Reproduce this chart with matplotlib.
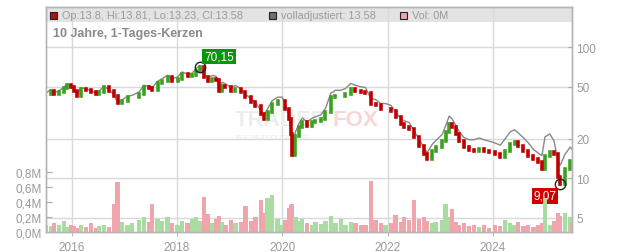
import numpy as np
import matplotlib
matplotlib.use("Agg")
import matplotlib.pyplot as plt
from matplotlib.patches import Rectangle

plt.rcParams["font.family"] = ["Liberation Sans", "DejaVu Sans"]

dates = [
    2015.51, 2015.60, 2015.66, 2015.76, 2015.85, 2015.92, 2015.98, 2016.04, 2016.11, 2016.17,
    2016.27, 2016.36, 2016.46, 2016.52, 2016.61, 2016.71, 2016.80, 2016.87, 2016.96, 2017.06,
    2017.15, 2017.28, 2017.37, 2017.47, 2017.53, 2017.63, 2017.72, 2017.82, 2017.91, 2018.01,
    2018.10, 2018.20, 2018.29, 2018.36, 2018.44,
    2018.51, 2018.58, 2018.67, 2018.74, 2018.80, 2018.86, 2018.92, 2019.02, 2019.11, 2019.21,
    2019.30, 2019.40, 2019.49, 2019.59, 2019.65, 2019.72, 2019.81, 2019.91, 2020.00,
    2020.06, 2020.13, 2020.16, 2020.19, 2020.25, 2020.32, 2020.38, 2020.47, 2020.57, 2020.63,
    2020.73, 2020.82, 2020.92,
    2021.01, 2021.11, 2021.20, 2021.30, 2021.39, 2021.49, 2021.58, 2021.68, 2021.77, 2021.87,
    2021.96, 2022.06, 2022.15, 2022.25,
    2022.31, 2022.41, 2022.50, 2022.60, 2022.69, 2022.75, 2022.85, 2022.91, 2023.04, 2023.10,
    2023.17, 2023.23, 2023.29, 2023.36, 2023.45, 2023.55, 2023.64, 2023.74, 2023.83, 2023.93,
    2024.04, 2024.14, 2024.23, 2024.33, 2024.41, 2024.48, 2024.58, 2024.67, 2024.77, 2024.86,
    2024.93,
    2024.99, 2025.08, 2025.16, 2025.24, 2025.28, 2025.37, 2025.47, 2025.50,
]

closes = [
    44.0, 46.6, 44.0, 45.8, 48.6, 51.5, 49.5, 46.6, 42.7, 48.1,
    47.5, 45.8, 44.0, 45.4, 49.5, 46.6, 42.7, 37.4, 39.1, 41.5,
    41.5, 44.0, 49.5, 48.6, 47.5, 53.1, 55.6, 59.0, 55.6, 57.3,
    62.5, 60.1, 61.4, 66.3, 70.15,
    59.0, 55.6, 57.3, 56.6, 46.6, 50.9, 49.5, 46.6, 48.1, 45.4,
    41.5, 38.0, 35.8, 31.0, 28.4, 31.9, 36.9, 39.1, 39.1,
    33.8, 28.4, 21.8, 15.0, 21.1, 24.5, 26.8, 25.2, 26.8, 27.5,
    28.4, 31.9, 41.5,
    42.7, 42.7, 44.0, 48.1, 46.6, 45.4, 44.8, 36.9, 36.3, 33.8,
    33.8, 32.8, 29.2, 26.0,
    24.5, 23.8, 20.6, 17.7, 15.3, 14.0, 16.2, 17.2, 19.4, 22.4,
    26.0, 24.5, 21.8, 19.4, 17.2, 16.5, 16.2, 16.7, 16.2, 15.8,
    15.3, 14.5, 16.2, 18.3, 19.0, 17.7, 16.2, 14.9, 14.0, 13.2,
    11.8,
    14.9, 15.9, 15.3, 10.2, 9.07, 11.8, 13.6, 13.58,
]

adjusted = [
    44.8, 47.4, 44.8, 46.6, 49.5, 52.4, 50.4, 47.4, 43.5, 49.0,
    48.4, 46.6, 44.8, 46.2, 50.4, 47.4, 43.5, 38.1, 39.8, 42.2,
    43.0, 45.6, 51.3, 50.3, 49.2, 55.0, 57.6, 61.1, 57.6, 59.4,
    64.8, 62.3, 63.6, 68.7, 72.7,
    62.7, 59.1, 60.9, 60.2, 49.5, 54.1, 52.6, 49.5, 51.1, 48.3,
    44.1, 40.4, 38.1, 33.0, 30.2, 33.9, 39.2, 41.6, 41.6,
    36.3, 30.5, 23.4, 17.5, 22.6, 26.3, 28.8, 27.0, 28.8, 29.5,
    30.5, 34.2, 44.5,
    47.0, 47.0, 48.4, 53.0, 51.3, 50.0, 49.3, 40.6, 40.0, 37.2,
    37.2, 36.1, 32.1, 28.6,
    27.5, 26.7, 23.1, 19.8, 17.2, 15.7, 18.2, 19.3, 21.7, 25.1,
    29.9, 28.2, 25.5, 22.7, 20.5, 19.7, 19.7, 20.3, 19.7, 19.2,
    18.6, 17.9, 20.0, 22.6, 23.5, 22.2, 20.4, 18.7, 16.6, 15.6,
    14.9,
    20.7, 21.8, 19.3, 13.3, 12.6, 15.3, 17.3, 16.7,
]

# Volume in millions
volumes = [
    0.10, 0.08, 0.12, 0.09, 0.15, 0.07, 0.10, 0.08, 0.06, 0.09,
    0.07, 0.12, 0.06, 0.08, 0.10, 0.07, 0.37, 0.66, 0.14, 0.10,
    0.12, 0.16, 0.20, 0.14, 0.37, 0.18, 0.15, 0.20, 0.12, 0.10,
    0.15, 0.12, 0.18, 0.20, 0.15,
    0.47, 0.24, 0.12, 0.18, 0.22, 0.14, 0.10, 0.16, 0.12, 0.14,
    0.35, 0.15, 0.20, 0.43, 0.26, 0.45, 0.49, 0.18, 0.10,
    0.16, 0.32, 0.36, 0.37, 0.20, 0.15, 0.18, 0.12, 0.10, 0.14,
    0.11, 0.15, 0.22,
    0.12, 0.18, 0.10, 0.14, 0.12, 0.09, 0.10, 0.68, 0.16, 0.12,
    0.10, 0.12, 0.23, 0.14,
    0.20, 0.16, 0.43, 0.18, 0.20, 0.15, 0.12, 0.14, 0.16, 0.37,
    0.20, 0.31, 0.14, 0.10, 0.12, 0.08, 0.10, 0.07, 0.09, 0.06,
    0.10, 0.08, 0.16, 0.12, 0.10, 0.14, 0.08, 0.10, 0.07, 0.09,
    0.12,
    0.45, 0.10, 0.15, 0.25, 0.22, 0.25, 0.20, 0.12,
]

year_ticks = [2016, 2018, 2020, 2022, 2024]
price_ticks = [5, 10, 20, 50, 100]
vol_ticks = [0.0, 0.2, 0.4, 0.6, 0.8]
vol_labels = ["0,0M", "0,2M", "0,4M", "0,6M", "0,8M"]

header_ohlc = "Op:13.8, Hi:13.81, Lo:13.23, Cl:13.58"
header_adj = "volladjustiert: 13.58"
header_vol = "Vol: 0M"
title = "10 Jahre, 1-Tages-Kerzen"

RED = "#c00000"
GREEN = "#3ca020"
GRAY = "#888888"
PINK = "#f0a4ac"
LGREEN = "#a8dca0"
TXT = "#9a9a9a"
GRID = "#d9d9d9"

x = np.array(dates)
c = np.array(closes)
o = np.concatenate([[c[0]], c[:-1]])
up = c >= o

fig = plt.figure(figsize=(6.32, 2.53), dpi=100)
ax = fig.add_axes([46 / 632, 19.7 / 253, 526 / 632, 225 / 253])
ax2 = ax.twinx()

ax.set_yscale("log")
ax.set_ylim(3.87, 202)
ax.set_xlim(2015.512, 2025.502)

# header band
ax.add_patch(Rectangle((0, 0.936), 1, 0.064, transform=ax.transAxes,
                       facecolor="#e3e3e3", edgecolor="none", zorder=0.1))

for yr in year_ticks:
    ax.axvline(yr, color=GRID, lw=1, zorder=0.3)
for p in price_ticks:
    ax.axhline(p, color=GRID, lw=1, zorder=0.3)

# watermark
ax.text(0.358, 0.50, "TRADER", transform=ax.transAxes, fontsize=16,
        fontweight="bold", color="#ededed", ha="left", va="center", zorder=0.4)
ax.text(0.545, 0.50, "FOX", transform=ax.transAxes, fontsize=16,
        fontweight="bold", color="#f9d6d6", ha="left", va="center", zorder=0.4)
ax.text(0.362, 0.425, "REALTIME STOCK SCREENING", transform=ax.transAxes,
        fontsize=3.5, color="#e6e6e6", ha="left", va="center", zorder=0.4)

# adjusted line
ax.plot(x, adjusted, color=GRAY, lw=1.0, zorder=1)

# candles
lo = np.minimum(o, c)
hi = np.maximum(o, c)
ax.vlines(x[up], lo[up], hi[up], color=GREEN, lw=2.6, capstyle="projecting", zorder=2)
ax.vlines(x[~up], lo[~up], hi[~up], color=RED, lw=2.6, capstyle="projecting", zorder=2)

# high / low markers
i_max = int(np.argmax(c))
i_min = int(np.argmin(c))
for i in (i_max, i_min):
    ax.plot(x[i], c[i], "o", ms=7.5, mfc="none", mec="#222222", mew=1, zorder=4)
ax.annotate(f"{c[i_max]:.2f}".replace(".", ","), (x[i_max], c[i_max]),
            xytext=(4, 5), textcoords="offset pixels", ha="left", va="bottom",
            fontsize=8.5, color="white", zorder=5,
            bbox=dict(boxstyle="square,pad=0.15", fc="#0a960a", ec="none"))
ax.annotate(f"{c[i_min]:.2f}".replace(".", ","), (x[i_min], c[i_min]),
            xytext=(-4, -6), textcoords="offset pixels", ha="right", va="top",
            fontsize=8.5, color="white", zorder=5,
            bbox=dict(boxstyle="square,pad=0.15", fc="#cc0000", ec="none"))

# volume
vcol = np.where(up, LGREEN, PINK)
ax2.bar(x, volumes, width=0.08, color=vcol, zorder=1)
ax2.set_ylim(0, 2.97)

# axes styling
ax.yaxis.tick_right()
ax.set_yticks(price_ticks)
ax.set_yticklabels([str(p) for p in price_ticks])
ax.yaxis.set_minor_locator(matplotlib.ticker.NullLocator())
ax.tick_params(axis="y", direction="in", length=3, pad=3, colors="#aaaaaa",
               labelcolor=TXT, labelsize=8.5, right=True, left=False,
               labelright=True, labelleft=False)
ax.set_xticks(year_ticks)
ax.set_xticklabels([str(y) for y in year_ticks])
ax.tick_params(axis="x", length=3, pad=3, colors="#bbbbbb", labelcolor=TXT,
               labelsize=8.5)

ax2.yaxis.tick_left()
ax2.set_yticks(vol_ticks)
ax2.set_yticklabels(vol_labels)
ax2.tick_params(axis="y", direction="in", length=4, pad=3, colors="#aaaaaa",
                labelcolor=TXT, labelsize=8.5, left=True, right=False,
                labelleft=True, labelright=False)

for a in (ax, ax2):
    for s in a.spines.values():
        s.set_color("#b5b5b5")
        s.set_linewidth(1)

# header texts
def legend_item(xpix, color, text):
    fig.patches.append(Rectangle((xpix / 632, 1 - 20 / 253), 7 / 632, 7 / 253,
                                 transform=fig.transFigure, facecolor=color,
                                 edgecolor="#222222", lw=0.8, zorder=6))
    fig.text((xpix + 12) / 632, 1 - 16.3 / 253, text, fontsize=7.8,
             color=TXT, ha="left", va="center", zorder=6)

legend_item(50, "#b01010", header_ohlc)
legend_item(269, "#707070", header_adj)
legend_item(400, "#f0a4ac", header_vol)

fig.text(53 / 632, 1 - 33.7 / 253, title, fontsize=9, fontweight="bold",
         color="#8a8a8a", ha="left", va="center")

fig.savefig("out.png", dpi=100)
